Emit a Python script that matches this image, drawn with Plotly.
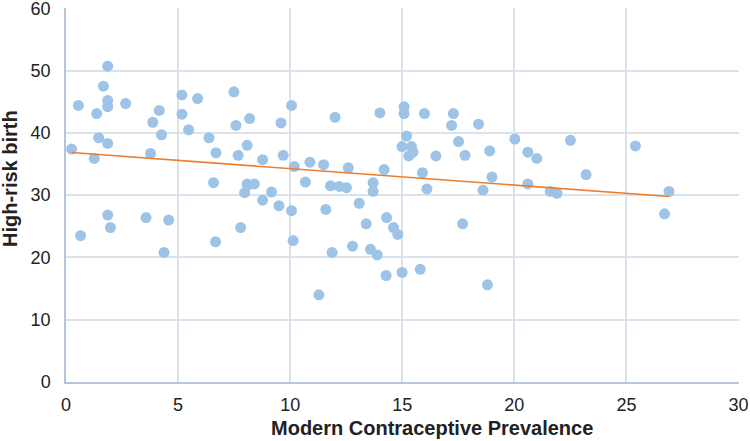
import numpy as np
import plotly.graph_objects as go

# Modern contraceptive prevalence (x) vs high-risk birth (y)
prevalence = [
    0.25, 0.55, 0.65, 1.26, 1.37, 1.46, 1.67, 1.86, 1.86, 1.86, 1.86, 1.86, 1.98,
    2.66, 3.57, 3.77, 3.87, 4.16, 4.26, 4.37, 4.58, 5.17, 5.17, 5.47, 5.87, 6.38,
    6.58, 6.69, 6.67, 7.49, 7.58, 7.68, 7.79, 7.97, 8.08, 8.08, 8.19, 8.1, 8.4,
    8.77, 8.77, 9.17, 9.5, 9.59, 9.69, 10.06, 10.06, 10.18, 10.13, 10.68, 10.88,
    11.28, 11.49, 11.59, 11.8, 11.87, 12.0, 12.19, 12.51, 12.59, 12.78, 13.08,
    13.39, 13.7, 13.7, 13.58, 13.88, 14.0, 14.19, 14.3, 14.28, 14.61, 14.8,
    14.99, 14.99, 15.08, 15.08, 15.19, 15.29, 15.41, 15.48, 15.8, 15.9, 15.99,
    16.1, 16.5, 17.2, 17.28, 17.51, 17.69, 17.8, 18.4, 18.6, 18.8, 19.0, 18.9,
    20.02, 20.6, 20.6, 21.0, 21.6, 21.9, 22.5, 23.2, 25.4, 26.7, 26.9,
]
high_risk = [
    37.4, 44.4, 23.5, 35.9, 43.1, 39.2, 47.5, 50.7, 45.2, 44.2, 38.3, 26.8, 24.8,
    44.7, 26.4, 36.7, 41.7, 43.6, 39.7, 20.8, 26.0, 46.1, 43.0, 40.5, 45.5, 39.2,
    32.0, 36.8, 22.5, 46.6, 41.2, 36.4, 24.8, 30.4, 38.0, 31.8, 42.3, 31.6, 31.8,
    35.7, 29.2, 30.5, 28.3, 41.6, 36.4, 44.4, 27.5, 34.6, 22.7, 32.1, 35.3,
    14.0, 34.9, 27.7, 31.5, 20.8, 42.5, 31.4, 31.2, 34.4, 21.8, 28.7,
    25.4, 32.0, 30.6, 21.3, 20.4, 43.2, 34.1, 26.4, 17.1, 24.8, 23.7,
    37.8, 17.6, 44.2, 43.1, 39.5, 36.3, 37.8, 36.9, 18.1, 33.6, 43.1,
    31.0, 36.3, 41.2, 43.1, 38.6, 25.4, 36.4, 41.4, 30.8, 15.6, 32.9, 37.1,
    39.0, 36.9, 31.8, 35.9, 30.6, 30.3, 38.8, 33.3, 37.9, 27.0, 30.6,
]
x_ticks = [0, 5, 10, 15, 20, 25, 30]
y_ticks = [0, 10, 20, 30, 40, 50, 60]

# linear trend line fitted to the points
slope, intercept = np.polyfit(prevalence, high_risk, 1)
trend_x = [min(prevalence), max(prevalence)]
trend_y = [slope * v + intercept for v in trend_x]

font = "Liberation Sans, Arial, Helvetica, sans-serif"

W, H = 750, 441
L, R, T, B = 66, 11, 8, 59
pw, ph = W - L - R, H - T - B


def px_to_paper(px, py):
    # page pixel -> paper coordinates
    return (px - L) / pw, (H - B - py) / ph


fig = go.Figure()
fig.add_trace(go.Scatter(
    x=prevalence, y=high_risk, mode="markers",
    marker=dict(color="#9dc3e6", size=11, line=dict(width=0)),
    showlegend=False, cliponaxis=False,
))
fig.add_trace(go.Scatter(
    x=trend_x, y=trend_y, mode="lines",
    line=dict(color="#ed7d31", width=1.6),
    showlegend=False,
))

axis_style = dict(
    showgrid=True, gridcolor="#dde2ea", gridwidth=1.5,
    showline=True, linecolor="#b8c4da", linewidth=1.5, zeroline=False,
    ticks="", automargin=False, ticklabeloverflow="allow",
)
xt_x, xt_y = px_to_paper(432, 428)
yt_x, yt_y = px_to_paper(10, 179)
fig.update_layout(
    width=W, height=H,
    margin=dict(l=L, r=R, t=T, b=B),
    paper_bgcolor="white", plot_bgcolor="white",
    font=dict(family=font, size=18, color="#222"),
    xaxis=dict(range=[0, 30.02], tickvals=x_ticks, ticklabelstandoff=6, **axis_style),
    yaxis=dict(range=[0, 60.05], tickvals=y_ticks, ticklabelstandoff=10, **axis_style),
    annotations=[
        dict(text="<b>Modern Contraceptive Prevalence</b>", xref="paper", yref="paper",
             x=xt_x, y=xt_y, yanchor="middle",
             showarrow=False, font=dict(size=20, color="#222")),
        dict(text="<b>High-risk birth</b>", xref="paper", yref="paper", textangle=-90,
             x=yt_x, y=yt_y, xanchor="center", yanchor="middle",
             showarrow=False, font=dict(size=20, color="#222")),
    ],
)

# drop the browser's default 8px body margin so the figure sits at (0, 0)
fig.write_html("out.html", config={"displayModeBar": False},
               post_script="document.body.style.margin = '0';")
